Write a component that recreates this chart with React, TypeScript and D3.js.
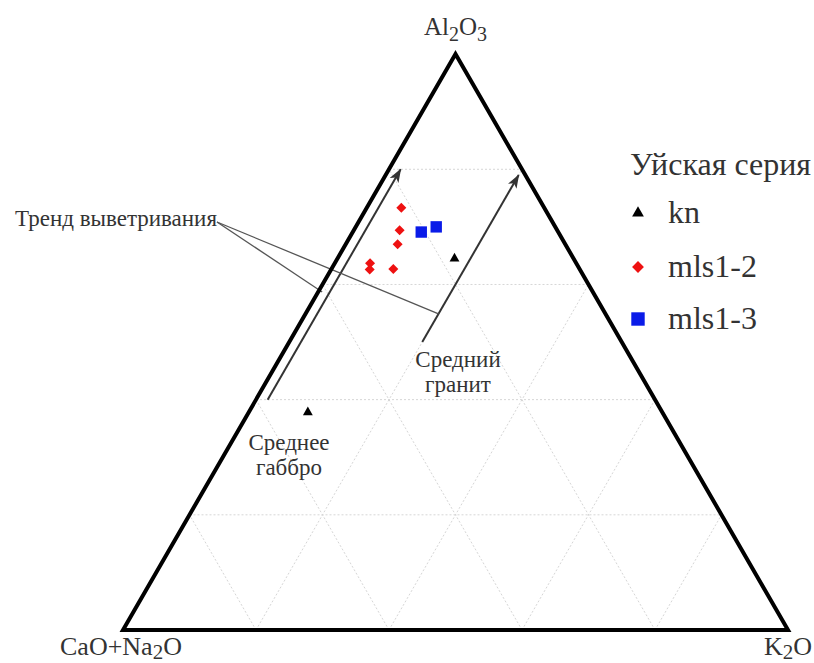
import React from "react";
import * as d3 from "d3";

// Components in percent: Al2O3, CaO+Na2O, K2O
const knAl = [64.5];
const knCN = [17.9];
const knK = [17.6];

const mls12Al = [73.3, 69.4, 67.0, 63.7, 62.6, 62.7];
const mls12CN = [21.5, 23.7, 25.2, 31.0, 31.6, 28.0];
const mls12K = [5.2, 6.9, 7.8, 5.3, 5.8, 9.3];

const mls13Al = [69.1, 70.0];
const mls13CN = [20.6, 17.9];
const mls13K = [10.3, 12.1];

// Reference compositions
const gabbroAl = 37.8;
const gabbroK = 8.9;

// Weathering trend arrows: constant K2O, rising Al2O3
const trendK = [1.75, 20];
const trendAlFrom = [40, 50];
const trendAlTo = [80, 79];

// Leader lines from the trend caption end on these points
const leaderAl = [58.7, 54.9];
const leaderK = [0.6, 20];

const gridSteps = [20, 40, 60, 80];

const seriesNames = ["kn", "mls1-2", "mls1-3"];
const seriesColors = ["#000000", "#ee1111", "#0a1be8"];

const W = 814;
const H = 663;
const left = 123;
const right = 788;
const base = 630;
const side = right - left;
const height = (side * Math.sqrt(3)) / 2;

const xScale = d3.scaleLinear().domain([0, 100]).range([left, right]);
const yScale = d3.scaleLinear().domain([0, 100]).range([base, base - height]);

// ternary (Al2O3, K2O) -> screen
const px = (al: number, k: number) => xScale(k + al / 2);
const py = (al: number) => yScale(al);

const triSym = d3.symbol().type(d3.symbolTriangle);
const sqSym = d3.symbol().type(d3.symbolSquare);

const serif = "Liberation Serif";
const textColor = "#333";

function gridLines() {
  const lines: { x1: number; y1: number; x2: number; y2: number }[] = [];
  gridSteps.forEach((v) => {
    // constant Al2O3
    lines.push({ x1: px(v, 0), y1: py(v), x2: px(v, 100 - v), y2: py(v) });
    // constant K2O
    lines.push({ x1: px(0, v), y1: py(0), x2: px(100 - v, v), y2: py(100 - v) });
    // constant CaO+Na2O
    lines.push({ x1: px(0, 100 - v), y1: py(0), x2: px(100 - v, 0), y2: py(100 - v) });
  });
  return lines;
}

export default function App() {
  const grid = gridLines();
  const outline = d3.line()([
    [px(100, 0), py(100)],
    [px(0, 0), py(0)],
    [px(0, 100), py(0)],
  ]) + "Z";

  const mls12 = mls12Al.map((a, i) => ({ a, cn: mls12CN[i], k: mls12K[i] }));
  const mls13 = mls13Al.map((a, i) => ({ a, cn: mls13CN[i], k: mls13K[i] }));
  const kn = knAl.map((a, i) => ({ a, cn: knCN[i], k: knK[i] }));

  const captionX = 217;
  const captionY = 222;

  const legendX = 638;
  const legendRows = [213, 267, 319];

  return (
    <svg width={W} height={H} style={{ position: "absolute", left: 0, top: 0, background: "#fff", fontFamily: serif }}>
      <defs>
        <marker id="arrowHead" viewBox="0 0 14 10" refX="13" refY="5" markerWidth="14" markerHeight="10" markerUnits="userSpaceOnUse" orient="auto">
          <path d="M0,0 L14,5 L0,10 L3.5,5 Z" fill="#333" />
        </marker>
      </defs>

      {/* grid */}
      {grid.map((l, i) => (
        <line key={"g" + i} {...l} stroke="#d6d6d6" strokeWidth={1} strokeDasharray="2,2" />
      ))}

      {/* trend arrows */}
      {trendK.map((k, i) => (
        <line
          key={"t" + i}
          x1={px(trendAlFrom[i], k)}
          y1={py(trendAlFrom[i])}
          x2={px(trendAlTo[i], k)}
          y2={py(trendAlTo[i])}
          stroke="#333"
          strokeWidth={2}
          markerEnd="url(#arrowHead)"
        />
      ))}

      {/* leader lines */}
      {leaderAl.map((a, i) => (
        <line
          key={"l" + i}
          x1={captionX}
          y1={captionY}
          x2={px(a, leaderK[i])}
          y2={py(a)}
          stroke="#555"
          strokeWidth={1.3}
        />
      ))}

      {/* triangle frame */}
      <path d={outline} fill="none" stroke="#000" strokeWidth={4} strokeLinejoin="miter" />

      {/* reference point: average gabbro */}
      <path
        d={triSym.size(42)() as string}
        transform={`translate(${px(gabbroAl, gabbroK)},${py(gabbroAl)})`}
        fill="#000"
      />

      {/* data */}
      {kn.map((d, i) => (
        <path
          key={"kn" + i}
          d={triSym.size(42)() as string}
          transform={`translate(${px(d.a, d.k)},${py(d.a)})`}
          fill={seriesColors[0]}
        />
      ))}
      {mls12.map((d, i) => (
        <path
          key={"m2" + i}
          d={sqSym.size(50)() as string}
          transform={`translate(${px(d.a, d.k)},${py(d.a)}) rotate(45)`}
          fill={seriesColors[1]}
        />
      ))}
      {mls13.map((d, i) => (
        <path
          key={"m3" + i}
          d={sqSym.size(130)() as string}
          transform={`translate(${px(d.a, d.k)},${py(d.a)})`}
          fill={seriesColors[2]}
        />
      ))}

      {/* vertex labels */}
      <text x={px(100, 0)} y={35} textAnchor="middle" fontFamily={serif} fontSize={25} fill={textColor}>
        Al<tspan dy={6} fontSize={20}>2</tspan>
        <tspan dy={-6}>O</tspan>
        <tspan dy={6} fontSize={20}>3</tspan>
      </text>
      <text x={60} y={655} fontFamily={serif} fontSize={26} fill={textColor}>
        CaO+Na<tspan dy={4} fontSize={21}>2</tspan>
        <tspan dy={-4}>O</tspan>
      </text>
      <text x={812} y={655} textAnchor="end" fontFamily={serif} fontSize={26} fill={textColor}>
        K<tspan dy={4} fontSize={21}>2</tspan>
        <tspan dy={-4}>O</tspan>
      </text>

      {/* annotations */}
      <text x={captionX} y={226} textAnchor="end" fontFamily={serif} fontSize={23} fill={textColor}>
        Тренд выветривания
      </text>
      <text x={458} y={367} textAnchor="middle" fontFamily={serif} fontSize={23} fill={textColor}>
        <tspan x={458}>Средний</tspan>
        <tspan x={458} dy={25}>гранит</tspan>
      </text>
      <text x={289} y={450} textAnchor="middle" fontFamily={serif} fontSize={23} fill={textColor}>
        <tspan x={289}>Среднее</tspan>
        <tspan x={289} dy={25}>габбро</tspan>
      </text>

      {/* legend */}
      <text x={630} y={175} fontFamily={serif} fontSize={32} fill={textColor}>
        Уйская серия
      </text>
      <path d={triSym.size(60)() as string} transform={`translate(${legendX},${legendRows[0]})`} fill={seriesColors[0]} />
      <path d={sqSym.size(70)() as string} transform={`translate(${legendX},${legendRows[1]}) rotate(45)`} fill={seriesColors[1]} />
      <path d={sqSym.size(180)() as string} transform={`translate(${legendX},${legendRows[2]})`} fill={seriesColors[2]} />
      {seriesNames.map((n, i) => (
        <text key={n} x={668} y={legendRows[i] + 10} fontFamily={serif} fontSize={32} fill={textColor}>
          {n}
        </text>
      ))}
    </svg>
  );
}
